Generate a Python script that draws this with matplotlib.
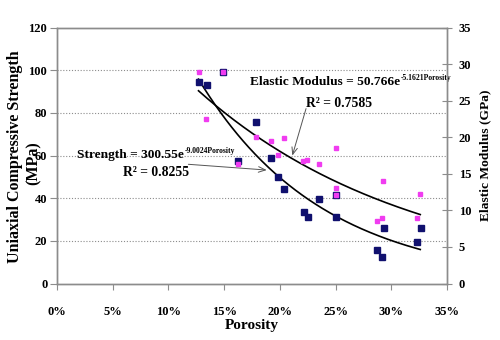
import numpy as np
import matplotlib
matplotlib.use("Agg")
import matplotlib.pyplot as plt
from matplotlib.ticker import PercentFormatter, MultipleLocator

# porosity (fraction) and uniaxial compressive strength (MPa)
strength_porosity = [0.127, 0.135, 0.149, 0.179, 0.162, 0.192, 0.198, 0.204,
                     0.222, 0.225, 0.235, 0.250, 0.250, 0.2935, 0.3265,
                     0.323, 0.287, 0.2915]
strength_mpa = [94.3, 93.0, 99.0, 75.8, 57.5, 58.8, 49.8, 44.3,
                33.4, 31.2, 39.8, 41.5, 31.2, 26.2, 26.2,
                19.3, 15.8, 12.6]

# porosity (fraction) and elastic modulus (GPa)
modulus_porosity = [0.127, 0.149, 0.134, 0.179, 0.192, 0.204, 0.198, 0.162,
                    0.221, 0.224, 0.250, 0.235, 0.250, 0.250, 0.293,
                    0.326, 0.287, 0.2915, 0.323]
modulus_gpa = [28.9, 28.9, 22.5, 20.0, 19.5, 19.9, 17.6, 16.3,
               16.75, 16.9, 18.5, 16.3, 13.1, 12.1, 14.0,
               12.2, 8.6, 8.9, 8.9]

# exponential fits
strength_fit = (300.55, -9.0024, 0.8255)
modulus_fit = (50.766, -5.1621, 0.7585)
fit_range = (0.127, 0.326)

NAVY = "#10106e"
MAGENTA = "#f03cf0"
GRID = "#8c8c8c"
SERIF = "Liberation Serif"

plt.rcParams["font.family"] = SERIF
plt.rcParams["font.weight"] = "bold"

fig = plt.figure(figsize=(5, 3.4), dpi=100)
ax = fig.add_axes([0.114, 0.166, 0.78, 0.753])
ax2 = ax.twinx()

ax.set_xlim(0, 0.35)
ax.set_ylim(0, 120)
ax2.set_ylim(0, 35)

ax.xaxis.set_major_locator(MultipleLocator(0.05))
ax.xaxis.set_major_formatter(PercentFormatter(1.0, decimals=0))
ax.yaxis.set_major_locator(MultipleLocator(20))
ax2.yaxis.set_major_locator(MultipleLocator(5))

# dotted horizontal gridlines
for yv in range(20, 120, 20):
    ax.axhline(yv, color=GRID, lw=0.8, ls=(0, (1, 1.6)), zorder=0)

for a in (ax, ax2):
    for sp in a.spines.values():
        sp.set_color(GRID)
        sp.set_linewidth(1.0)

ax.tick_params(axis="y", direction="out", length=5, width=0.8, color=GRID,
               pad=2, labelsize=9)
ax.tick_params(axis="x", direction="out", length=4, width=0.8, color=GRID,
               pad=12, labelsize=9)
ax2.tick_params(axis="y", direction="inout", length=7, width=0.8, color=GRID,
                pad=5, labelsize=9)
for lbl in ax.get_xticklabels() + ax.get_yticklabels() + ax2.get_yticklabels():
    lbl.set_fontweight("bold")

# data points
ax.plot(strength_porosity, strength_mpa, ls="none", marker="s", ms=4.3,
        mfc=NAVY, mec=NAVY, zorder=3)
ax2.plot(modulus_porosity, modulus_gpa, ls="none", marker="s", ms=2.9,
         mfc=MAGENTA, mec=MAGENTA, zorder=3)

# fitted curves
p = np.linspace(fit_range[0], fit_range[1], 200)
ax.plot(p, strength_fit[0] * np.exp(strength_fit[1] * p), color="black",
        lw=1.2, zorder=2)
ax2.plot(p, modulus_fit[0] * np.exp(modulus_fit[1] * p), color="black",
         lw=1.2, zorder=2)

ax2.set_zorder(ax.get_zorder() + 1)
ax2.patch.set_visible(False)


def equation(xy, name, fit, r2_xy, tip, start):
    main = ax.text(xy[0], xy[1], f"{name} = {fit[0]:g}e", fontsize=9.6,
                   fontweight="bold", va="baseline", zorder=5)
    ax.annotate(f"{fit[1]:g}Porosity", xy=(1, 1), xycoords=main,
                xytext=(0.5, 1.5), textcoords="offset points", fontsize=5.5,
                fontweight="bold", va="top", ha="left", zorder=5)
    ax.text(r2_xy[0], r2_xy[1], f"R\u00b2 = {fit[2]:.4f}", fontsize=9.8,
            fontweight="bold", va="baseline", zorder=5)
    ax.annotate("", xy=tip, xytext=start,
                arrowprops=dict(arrowstyle="->,head_length=0.5,head_width=0.2",
                                color="#555555", lw=0.7, shrinkA=0, shrinkB=0))


equation((0.1733, 93.0), "Elastic Modulus", modulus_fit, (0.2238, 82.9),
         (0.2112, 60.0), (0.2235, 82.0))
equation((0.0177, 58.7), "Strength", strength_fit, (0.0592, 50.5),
         (0.1882, 53.2), (0.1179, 55.9))

ax.set_xlabel("Porosity", fontsize=11, fontweight="bold", labelpad=1)
# left axis title, two lines
fig.text(0.030, 0.540, "Uniaxial Compressive Strength", rotation=90,
         ha="center", va="center", fontsize=11.5, fontweight="bold")
fig.text(0.067, 0.520, "(MPa)", rotation=90,
         ha="center", va="center", fontsize=11.5, fontweight="bold")
ax2.set_ylabel("Elastic Modulus (GPa)", fontsize=9.7, fontweight="bold",
               labelpad=6)

fig.savefig("out.png", dpi=100)
